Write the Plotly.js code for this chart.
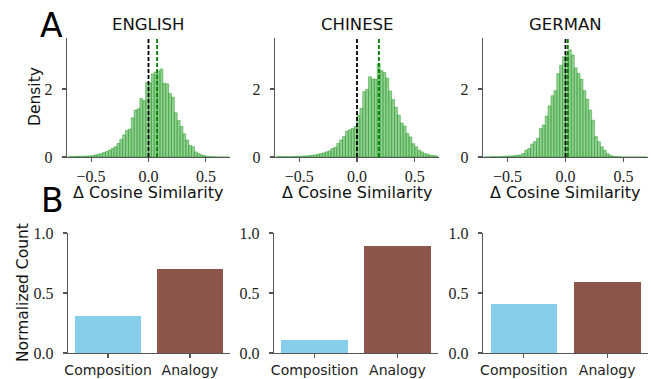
<!DOCTYPE html>
<html>
<head>
<meta charset="utf-8">
<script src="https://cdn.plot.ly/plotly-3.0.1.min.js"></script>
<style>html,body{margin:0;padding:0;background:#fff;}</style>
</head>
<body>
<div id="chart" style="width:651px;height:379px;"></div>
<script>
// ---- data ----
const languages = ["ENGLISH", "CHINESE", "GERMAN"];
const binCenters = [-0.6875,-0.6625,-0.6375,-0.6125,-0.5875,-0.5625,-0.5375,-0.5125,-0.4875,-0.4625,-0.4375,-0.4125,-0.3875,-0.3625,-0.3375,-0.3125,-0.2875,-0.2625,-0.2375,-0.2125,-0.1875,-0.1625,-0.1375,-0.1125,-0.0875,-0.0625,-0.0375,-0.0125,0.0125,0.0375,0.0625,0.0875,0.1125,0.1375,0.1625,0.1875,0.2125,0.2375,0.2625,0.2875,0.3125,0.3375,0.3625,0.3875,0.4125,0.4375,0.4625,0.4875,0.5125,0.5375,0.5625,0.5875,0.6125,0.6375,0.6625,0.6875];
const binWidth = 0.025;
const densityEnglish = [0.01,0.01,0.02,0.02,0.02,0.02,0.03,0.03,0.04,0.06,0.08,0.10,0.13,0.16,0.20,0.25,0.30,0.40,0.52,0.65,0.78,0.82,1.15,1.38,1.42,1.72,1.66,2.20,
  2.18,2.44,2.50,2.53,2.59,2.17,2.15,1.87,1.76,1.30,1.07,0.90,0.68,0.50,0.34,0.30,0.15,0.10,0.06,0.04,0.02,0.01,0.01,0,0,0,0,0];
const densityChinese = [0.01,0.01,0.01,0.01,0.01,0.01,0.02,0.02,0.02,0.03,0.03,0.04,0.05,0.06,0.08,0.10,0.12,0.15,0.18,0.25,0.28,0.40,0.50,0.60,0.76,0.80,0.84,0.90,
  1.23,1.43,1.92,1.99,2.36,2.29,2.29,2.74,2.54,2.48,2.32,1.94,1.69,1.46,1.23,1.00,0.91,0.69,0.59,0.39,0.30,0.20,0.15,0.10,0.08,0.05,0.04,0.03];
const densityGerman = [0,0,0.01,0.01,0.01,0.01,0.02,0.02,0.03,0.03,0.04,0.05,0.06,0.10,0.20,0.25,0.38,0.45,0.55,0.84,0.94,1.20,1.50,1.80,1.95,2.45,2.70,2.95,
  3.00,3.15,3.00,2.62,2.46,2.29,1.95,1.70,1.38,1.08,0.60,0.45,0.30,0.20,0.10,0.05,0.02,0.01,0.01,0,0,0,0,0,0,0,0,0];
const densities = [densityEnglish, densityChinese, densityGerman];
const meanDelta = [0.075, 0.19, 0.02];   // green dashed lines
const zeroLine = [0, 0, 0];              // black dashed lines
const barCategories = ["Composition", "Analogy"];
const compositionCount = [0.31, 0.11, 0.41];
const analogyCount = [0.70, 0.89, 0.59];
const histTicks = [-0.5, 0, 0.5];
const histTickText = ["\u22120.5", "0.0", "0.5"];
const densityTicks = [0, 2];
const densityTickText = ["0", "2"];
const countTicks = [0, 0.5, 1.0];
const countTickText = ["0.0", "0.5", "1.0"];

// ---- layout geometry (pixels) ----
const W = 651, H = 379;
const topX = [[67,230],[275,439],[483,648]];
const botX = [[68,230],[274,438],[483,648]];
const topY = [38,157], botY = [233,353];
const px = v => v / W, py = v => 1 - v / H;

const sans = "DejaVu Sans";
const serif = "Liberation Serif";
const axisCol = "#555555";

function makeAxis(extra, fontFamily, fontSize) {
  const ax = {
    showline: true, linecolor: axisCol, linewidth: 1.3,
    ticks: "outside", ticklen: 4, tickwidth: 1.2, tickcolor: axisCol,
    showgrid: false, zeroline: false, fixedrange: true,
    tickfont: {family: fontFamily, size: fontSize, color: "#222"}
  };
  for (const k in extra) ax[k] = extra[k];
  return ax;
}

const data = [];
const layout = {
  width: W, height: H,
  margin: {l:0, r:0, t:0, b:0},
  paper_bgcolor: "#fff", plot_bgcolor: "#fff",
  showlegend: false, bargap: 0,
  shapes: [], annotations: []
};

for (let i = 0; i < 3; i++) {
  const xa = i + 1, xb = i + 4;
  const sfx = n => (n === 1 ? "" : String(n));
  data.push({
    type: "bar", x: binCenters, y: densities[i], width: binWidth,
    xaxis: "x" + sfx(xa), yaxis: "y" + sfx(xa),
    marker: {color: "rgba(44,160,44,0.5)", line: {color: "rgba(44,160,44,0.75)", width: 0.7}},
    hoverinfo: "skip"
  });
  data.push({
    type: "bar", x: barCategories, y: [compositionCount[i], analogyCount[i]], width: 0.8,
    xaxis: "x" + xb, yaxis: "y" + xb,
    marker: {color: ["#87ceeb", "#8c564b"], line: {width: 0}},
    hoverinfo: "skip"
  });
  layout["xaxis" + sfx(xa)] = makeAxis({
    domain: [px(topX[i][0]), px(topX[i][1])], anchor: "y" + sfx(xa),
    range: [-0.71, 0.71], tickmode: "array", tickvals: histTicks, ticktext: histTickText
  }, serif, 16);
  layout["yaxis" + sfx(xa)] = makeAxis({
    domain: [py(topY[1]), py(topY[0])], anchor: "x" + sfx(xa),
    range: [0, 3.5], tickmode: "array", tickvals: densityTicks, ticktext: densityTickText,
    ticklabelstandoff: 6
  }, serif, 16);
  layout["xaxis" + xb] = makeAxis({
    domain: [px(botX[i][0]), px(botX[i][1])], anchor: "y" + xb,
    type: "category", range: [-0.49, 1.49]
  }, sans, 14);
  layout["yaxis" + xb] = makeAxis({
    domain: [py(botY[1]), py(botY[0])], anchor: "x" + xb,
    range: [0, 1.0], tickmode: "array", tickvals: countTicks, ticktext: countTickText,
    ticklabelstandoff: 6
  }, serif, 16);
  // dashed reference lines
  layout.shapes.push({type: "line", xref: "x" + sfx(xa), yref: "y" + sfx(xa) + " domain",
    x0: meanDelta[i], x1: meanDelta[i], y0: 0, y1: 1,
    line: {color: "#008000", width: 1.8, dash: "4px,2px"}, layer: "above"});
  layout.shapes.push({type: "line", xref: "x" + sfx(xa), yref: "y" + sfx(xa) + " domain",
    x0: zeroLine[i], x1: zeroLine[i], y0: 0, y1: 1,
    line: {color: "#000000", width: 1.8, dash: "4px,2px"}, layer: "above"});
  // panel titles
  const cx = (topX[i][0] + topX[i][1]) / 2;
  layout.annotations.push({text: languages[i], xref: "paper", yref: "paper",
    x: px(cx), y: py(24), xanchor: "center", yanchor: "middle", showarrow: false,
    font: {family: sans, size: 16.5, color: "#111"}});
  layout.annotations.push({text: "\u0394 Cosine Similarity", xref: "paper", yref: "paper",
    x: px(cx), y: py(192), xanchor: "center", yanchor: "middle", showarrow: false,
    font: {family: sans, size: 16, color: "#111"}});
}
layout.annotations.push({text: "Density", xref: "paper", yref: "paper", textangle: -90,
  x: px(35), y: py(97), xanchor: "center", yanchor: "middle", showarrow: false,
  font: {family: sans, size: 15.5, color: "#111"}});
layout.annotations.push({text: "Normalized Count", xref: "paper", yref: "paper", textangle: -90,
  x: px(23), y: py(293), xanchor: "center", yanchor: "middle", showarrow: false,
  font: {family: sans, size: 15.5, color: "#111"}});
layout.annotations.push({text: "A", xref: "paper", yref: "paper",
  x: px(51.5), y: py(25), xanchor: "center", yanchor: "middle", showarrow: false,
  font: {family: sans, size: 33, color: "#000"}});
layout.annotations.push({text: "B", xref: "paper", yref: "paper",
  x: px(52), y: py(200), xanchor: "center", yanchor: "middle", showarrow: false,
  font: {family: sans, size: 33, color: "#000"}});

Plotly.newPlot("chart", data, layout, {staticPlot: true, displayModeBar: false});
</script>
</body>
</html>
